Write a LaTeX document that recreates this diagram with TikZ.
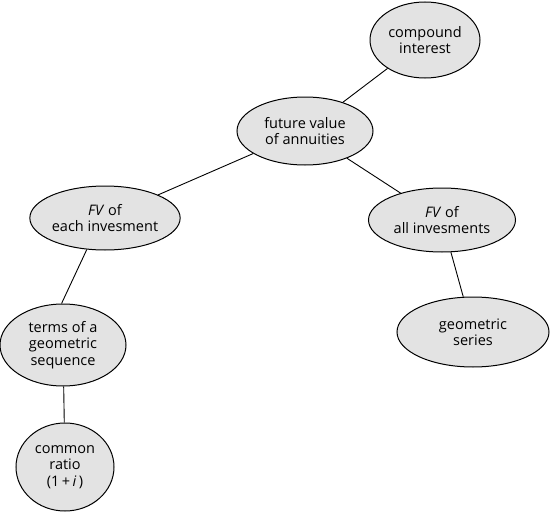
\documentclass[tikz,border=0pt]{standalone}
\usepackage{fontspec}
\setmainfont{Open Sans}
\usetikzlibrary{shapes.geometric}
\tikzset{
  bubble/.style={ellipse, draw=black, line width=1pt, fill=gray!22, inner sep=0pt, align=center, font=\fontsize{14.5}{16.5}\selectfont},
  link/.style={draw=black, line width=0.9pt}
}
\begin{document}
\begin{tikzpicture}[x=1pt,y=-1pt]
\useasboundingbox (0,0) rectangle (555,514);
\node[bubble, minimum width=110pt, minimum height=76pt] (ci) at (425,40) {compound\\interest};
\node[bubble, minimum width=136pt, minimum height=68pt] (fv) at (305,131) {future value\\of annuities};
\node[bubble, minimum width=146pt, minimum height=64pt] (fe) at (105,218) {\textit{FV} of\\each invesment};
\node[bubble, minimum width=147pt, minimum height=64pt] (fa) at (442,220) {\textit{FV} of\\all invesments};
\node[bubble, minimum width=126pt, minimum height=82pt] (ts) at (63,345) {terms of a\\geometric\\sequence};
\node[bubble, minimum width=152pt, minimum height=70pt] (gs) at (473,332) {geometric\\series};
\node[bubble, minimum width=98pt, minimum height=88pt] (cr) at (65,467) {common\\ratio\\(1\,+\,\textit{i}\,)};
\draw[link] (ci) -- (fv);
\draw[link] (fv) -- (fe);
\draw[link] (fv) -- (fa);
\draw[link] (fe.-120) -- (ts.92);
\draw[link] (fa) -- (gs);
\draw[link] (ts) -- (cr);
\end{tikzpicture}
\end{document}
